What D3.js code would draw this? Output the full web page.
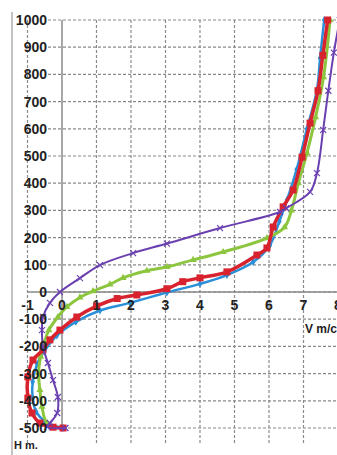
<!DOCTYPE html>
<html>
<head>
<meta charset="utf-8">
<script src="https://cdn.jsdelivr.net/npm/d3@7"></script>
<style>
  html, body { margin: 0; padding: 0; background: #fff; }
  svg { display: block; }
  text { font-family: "Liberation Sans", Arial, sans-serif; fill: #222; }
</style>
</head>
<body>
<svg id="chart" width="337" height="455"></svg>
<script>
// Tick values
const yTicks = [1000, 900, 800, 700, 600, 500, 400, 300, 200, 100, 0, -100, -200, -300, -400, -500];
const xTicks = [-1, 0, 1, 2, 3, 4, 5, 6, 7, 8];
const xTitle = "V m/c";
const yTitle = "H m.";

// Series: [velocity, depth]
const blueSeries = [[0.0,-500],[-0.5,-475],[-0.75,-440],[-0.85,-390],[-0.85,-330],[-0.72,-265],[-0.5,-215],[-0.15,-160],[0.4,-110],[1.1,-68],[1.97,-40],[3.04,-2],[4.0,30],[4.78,62],[5.54,110],[6.03,173],[6.3,260],[6.52,338],[6.8,450],[7.1,600],[7.39,743],[7.48,860],[7.6,1000]];
const redSeries = [[0.03,-500],[-0.26,-497],[-0.64,-482],[-0.87,-445],[-0.99,-390],[-0.99,-312],[-0.84,-250],[-0.55,-213],[-0.35,-176],[-0.06,-140],[0.43,-92],[1.0,-52],[1.6,-24],[2.17,-11],[3.04,12],[3.5,38],[4.0,52],[4.78,74],[5.65,136],[5.94,162],[6.12,239],[6.41,313],[6.7,375],[6.96,496],[7.19,621],[7.42,740],[7.56,870],[7.7,1000]];
const greenSeries = [[0.03,-500],[-0.43,-482],[-0.58,-422],[-0.64,-360],[-0.68,-298],[-0.62,-238],[-0.52,-188],[-0.38,-140],[-0.12,-92],[0.14,-55],[0.52,-20],[0.9,3],[1.39,28],[1.77,52],[2.46,78],[3.04,92],[3.8,118],[4.67,147],[5.94,198],[6.45,238],[6.65,300],[6.85,400],[7.1,511],[7.35,643],[7.58,790],[7.77,1000]];
const purpleSeries = [[0.1,-500],[-0.43,-496],[-0.35,-482],[-0.14,-445],[-0.12,-386],[-0.26,-324],[-0.41,-261],[-0.55,-202],[-0.58,-140],[-0.55,-92],[-0.35,-40],[-0.06,0],[0.52,51],[1.1,99],[2.06,143],[3.04,178],[4.58,235],[6.32,294],[6.5,308],[7.19,368],[7.39,437],[7.57,596],[7.72,740],[7.88,880],[8.05,1000]];

const svg = d3.select("#chart");
const x = d3.scaleLinear().domain([0, 8]).range([62, 338]);
const y = d3.scaleLinear().domain([-500, 1000]).range([428, 20]);

const gridColor = "#8a8a8a";
const plotBottom = 445;

// horizontal gridlines
svg.append("g").selectAll("line").data(yTicks).join("line")
  .attr("x1", 48).attr("x2", 337)
  .attr("y1", d => y(d)).attr("y2", d => y(d))
  .attr("stroke", gridColor).attr("stroke-width", 1.2)
  .attr("stroke-dasharray", "3,2");

// vertical gridlines
svg.append("g").selectAll("line").data(xTicks.filter(d => d !== 0)).join("line")
  .attr("x1", d => x(d)).attr("x2", d => x(d))
  .attr("y1", y(1000)).attr("y2", plotBottom)
  .attr("stroke", gridColor).attr("stroke-width", 1.2)
  .attr("stroke-dasharray", "3,2");

// left border
svg.append("line").attr("x1", 12).attr("x2", 12).attr("y1", 12).attr("y2", 455)
  .attr("stroke", "#9a9a9a").attr("stroke-width", 1.2);

// vertical axis at v = 0
svg.append("line").attr("x1", x(0)).attr("x2", x(0)).attr("y1", y(1000)).attr("y2", y(-500))
  .attr("stroke", "#8a8a8a").attr("stroke-width", 1.5);
// horizontal axis at h = 0
svg.append("line").attr("x1", x(-1)).attr("x2", 337).attr("y1", y(0)).attr("y2", y(0))
  .attr("stroke", "#8a8a8a").attr("stroke-width", 1.5);

// Lines
const line = d3.line().x(d => x(d[0])).y(d => y(d[1])).curve(d3.curveCatmullRom.alpha(0.5));

function drawSeries(data, color, width, marker) {
  const g = svg.append("g");
  g.append("path").datum(data).attr("d", line)
    .attr("fill", "none").attr("stroke", color).attr("stroke-width", width)
    .attr("stroke-linejoin", "round").attr("stroke-linecap", "round");
  const m = g.selectAll("g.m").data(data).join("g")
    .attr("transform", d => `translate(${x(d[0])},${y(d[1])})`);
  if (marker === "square") {
    m.append("rect").attr("x", -3.5).attr("y", -3.5).attr("width", 7).attr("height", 7).attr("fill", color);
  } else if (marker === "triangle") {
    m.append("path").attr("d", d3.symbol(d3.symbolTriangle, 22)).attr("fill", color);
  } else if (marker === "diamond") {
    m.append("path").attr("d", d3.symbol(d3.symbolDiamond, 18)).attr("fill", color);
  } else if (marker === "x") {
    m.append("path").attr("d", "M-3,-3L3,3M-3,3L3,-3").attr("stroke", color).attr("stroke-width", 1.2);
  }
}

drawSeries(blueSeries, "#2a8fd8", 2.5, "diamond");
drawSeries(greenSeries, "#8cc63e", 3, "triangle");
drawSeries(redSeries, "#d8232f", 3.5, "square");
drawSeries(purpleSeries, "#6a40b0", 2, "x");

// Y tick labels
svg.append("g").selectAll("text").data(yTicks).join("text")
  .attr("x", 47).attr("y", d => y(d)).attr("dy", "0.36em")
  .attr("text-anchor", "end").attr("font-size", 14).attr("font-weight", "bold")
  .text(d => d);

// X tick labels
svg.append("g").selectAll("text").data(xTicks).join("text")
  .attr("x", d => x(d)).attr("y", y(0) + 18)
  .attr("text-anchor", "middle").attr("font-size", 14).attr("font-weight", "bold")
  .text(d => d);

// axis titles
svg.append("text").attr("x", 305).attr("y", 333).attr("font-size", 12).attr("font-weight", "bold").text(xTitle);
svg.append("text").attr("x", 14).attr("y", 449).attr("font-size", 11).attr("font-weight", "bold").text(yTitle);
</script>
</body>
</html>
